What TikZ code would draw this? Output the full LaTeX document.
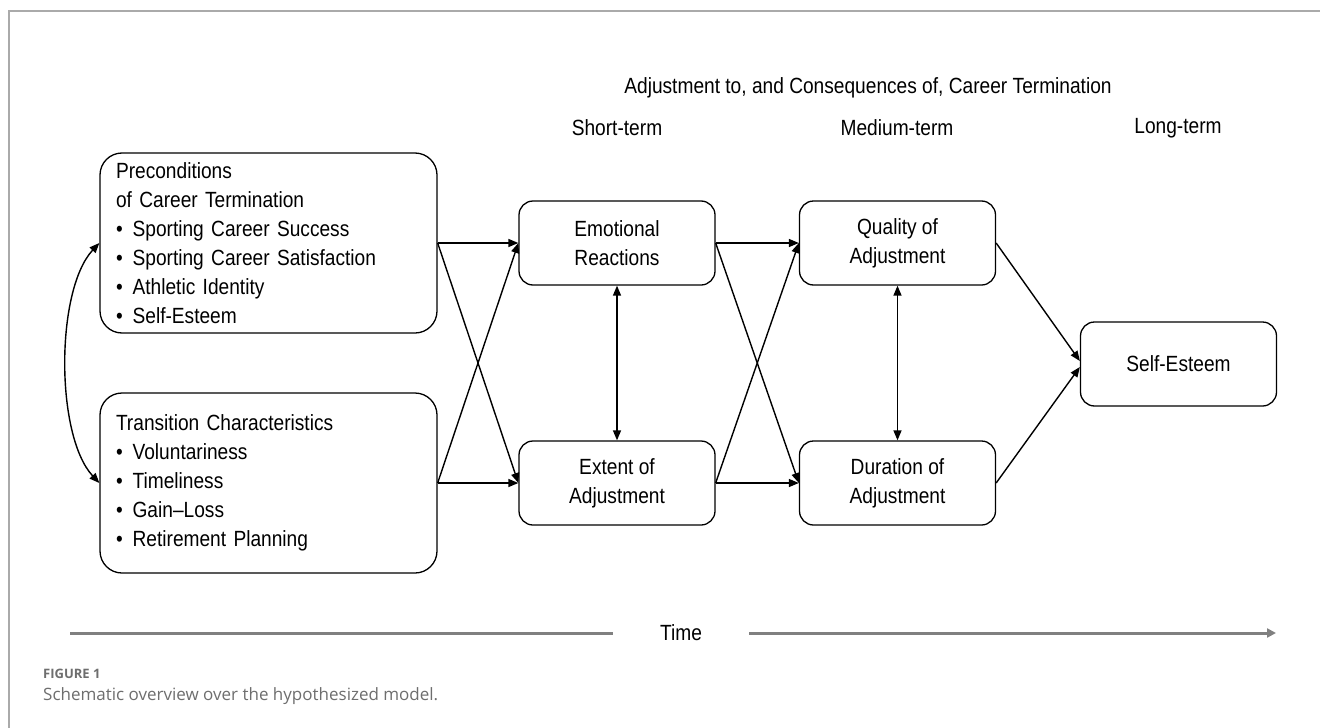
\documentclass[tikz,border=0pt]{standalone}
\usepackage{fontspec}
\setmainfont{Liberation Sans}[FakeStretch=0.87]
\newfontfamily\capfont{Open Sans}
\usetikzlibrary{arrows.meta,calc}
\definecolor{framegray}{HTML}{AAAAAA}
\definecolor{timegray}{HTML}{808080}
\definecolor{capgray}{HTML}{6E6E6E}
\begin{document}
\begin{tikzpicture}[x=1pt,y=-1pt,
  every node/.style={font=\fontsize{22}{29}\selectfont},
  bigbox/.style={draw,line width=1.3pt,rounded corners=22pt,minimum height=180pt,
    text width=305pt,inner xsep=16pt,align=left},
  smallbox/.style={draw,line width=1.3pt,rounded corners=14pt,minimum width=196pt,
    minimum height=84pt,align=center},
  conn/.style={line width=1.4pt,-{Triangle[length=10pt,width=8pt]}},
  biconn/.style={line width=1.4pt,{Triangle[length=10pt,width=8pt]}-{Triangle[length=10pt,width=8pt]}},
  hdr/.style={anchor=center},
  timeline/.style={draw=timegray,line width=3pt}
]
\useasboundingbox (0,0) rectangle (1320,728);
\fill[white] (0,0) rectangle (1320,728);
% frame
\draw[framegray,line width=2pt] (9,728) -- (9,11) -- (1320,11);

% headers
\node[hdr] (h0) at (868,88) {Adjustment to, and Consequences of, Career Termination};
\node[hdr] (h1) at (617,128) {Short-term};
\node[hdr] (h2) at (897,128) {Medium-term};
\node[hdr] (h3) at (1178,128) {Long-term};

% boxes
\node[bigbox] (pre) at (268.5,243) {Preconditions\\of Career Termination\\
  •\hspace{0.45em}Sporting Career Success\\
  •\hspace{0.45em}Sporting Career Satisfaction\\
  •\hspace{0.45em}Athletic Identity\\
  •\hspace{0.45em}Self-Esteem};
\node[bigbox] (tra) at (268.5,483) {Transition Characteristics\\
  •\hspace{0.45em}Voluntariness\\
  •\hspace{0.45em}Timeliness\\
  •\hspace{0.45em}Gain–Loss\\
  •\hspace{0.45em}Retirement Planning};

\node[smallbox] (emo) at (617,243) {Emotional\\Reactions};
\node[smallbox] (ext) at (617,483) {Extent of\\Adjustment};
\node[smallbox] (qua) at (897.5,243) {Quality of\\Adjustment};
\node[smallbox] (dur) at (897.5,483) {Duration of\\Adjustment};
\node[smallbox] (se) at (1178.5,364) {Self-Esteem};

% connectors
\draw[conn] (pre.east) -- (emo.west);
\draw[conn] (pre.east) -- (ext.west);
\draw[conn] (tra.east) -- (emo.west);
\draw[conn] (tra.east) -- (ext.west);
\draw[conn] (emo.east) -- (qua.west);
\draw[conn] (emo.east) -- (dur.west);
\draw[conn] (ext.east) -- (qua.west);
\draw[conn] (ext.east) -- (dur.west);
\draw[conn] (qua.east) -- ($(se.west)+(0,-3)$);
\draw[conn] (dur.east) -- ($(se.west)+(0,3)$);
\draw[biconn] (emo.south) -- (ext.north);
\draw[biconn] (qua.south) -- (dur.north);
\draw[biconn] (pre.west) .. controls ($(pre.west)+(-44,47)$) and ($(tra.west)+(-44,-47)$) .. (tra.west);

% time axis
\coordinate (tl) at (70,633);
\coordinate (tr) at (1276,633);
\node[minimum width=136pt,inner sep=0pt] (time) at (681,633) {Time};
\draw[timeline] (tl) -- (time.west);
\draw[timeline,-{Triangle[length=9pt,width=9pt]}] (time.east) -- (tr);

% caption
\node[anchor=base west,inner sep=0pt,font=\capfont\bfseries\fontsize{13}{15}\selectfont,text=capgray] (fig) at (43,678) {FIGURE 1};
\node[anchor=base west,inner sep=0pt,font=\capfont\fontsize{17}{20}\selectfont,text=capgray] (cap) at (43,700) {Schematic overview over the hypothesized model.};
\end{tikzpicture}
\end{document}
